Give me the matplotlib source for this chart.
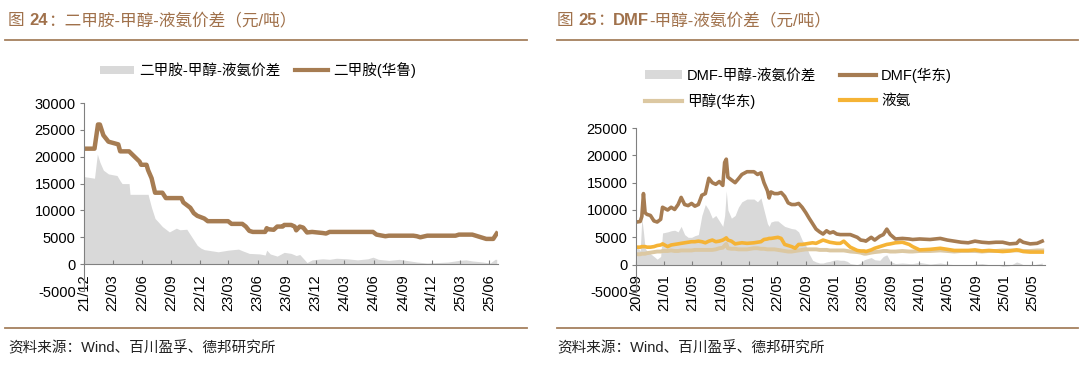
import matplotlib
matplotlib.use("Agg")
import matplotlib.pyplot as plt
import matplotlib.dates as mdates
from matplotlib.lines import Line2D
from matplotlib.patches import Patch
import pandas as pd

plt.rcParams['font.family'] = ['Liberation Sans', 'Noto Sans CJK SC']
plt.rcParams['axes.unicode_minus'] = False

# ---- left chart: 二甲胺 ----
dma_dates = ['2021-12-01', '2022-01-03', '2022-01-14', '2022-01-20', '2022-01-31', '2022-02-16',
             '2022-03-19', '2022-03-25', '2022-04-22', '2022-05-25', '2022-05-30', '2022-06-16',
             '2022-06-21', '2022-07-02', '2022-07-08', '2022-07-13', '2022-08-05', '2022-08-16',
             '2022-10-04', '2022-10-10', '2022-11-01', '2022-11-12', '2022-11-23', '2022-12-15',
             '2022-12-26', '2023-02-28', '2023-03-11', '2023-04-14', '2023-04-25', '2023-05-06',
             '2023-05-17', '2023-06-25', '2023-06-30', '2023-07-05', '2023-07-22', '2023-08-02',
             '2023-08-19', '2023-08-24', '2023-09-15', '2023-09-26', '2023-10-01', '2023-10-12',
             '2023-10-23', '2023-11-04', '2023-11-20', '2023-12-23', '2024-01-03', '2024-01-14',
             '2024-05-19', '2024-05-30', '2024-06-10', '2024-07-08', '2024-07-19', '2024-10-04',
             '2024-10-15', '2024-10-26', '2024-11-17', '2024-11-28', '2025-02-14', '2025-02-25',
             '2025-04-08', '2025-04-30', '2025-05-22', '2025-06-13', '2025-06-24']
dma_price = [21500, 21500, 26000, 26000, 24000, 22800,
             22300, 21000, 21000, 19100, 18500, 18500,
             17500, 16000, 14500, 13300, 13300, 12300,
             12300, 11500, 10500, 9500, 9000, 8500,
             8000, 8000, 7500, 7500, 7000, 6200,
             6000, 6000, 6700, 6500, 6400, 7000,
             7000, 7300, 7300, 7000, 6300, 7000,
             6800, 5900, 6000, 5800, 5700, 6000,
             6000, 6000, 5500, 5200, 5300, 5300,
             5200, 5000, 5300, 5300, 5300, 5500,
             5500, 5100, 4700, 4700, 5700]

dma_sp_dates = ['2021-12-01', '2022-01-03', '2022-01-12', '2022-01-20', '2022-01-31', '2022-02-16',
                '2022-03-15', '2022-03-25', '2022-03-31', '2022-04-22', '2022-04-25', '2022-06-21',
                '2022-06-23', '2022-07-02', '2022-07-13', '2022-07-24', '2022-08-05', '2022-08-16',
                '2022-08-27', '2022-09-18', '2022-09-29', '2022-10-21', '2022-11-01', '2022-11-12',
                '2022-11-23', '2022-12-04', '2022-12-15', '2023-01-06', '2023-01-28', '2023-02-28',
                '2023-04-02', '2023-04-14', '2023-05-06', '2023-06-08', '2023-06-25', '2023-06-30',
                '2023-07-11', '2023-08-02', '2023-08-24', '2023-09-15', '2023-10-01', '2023-10-12',
                '2023-10-29', '2023-11-04', '2023-11-20', '2023-12-23', '2024-01-14', '2024-02-05',
                '2024-03-09', '2024-04-11', '2024-05-14', '2024-05-30', '2024-06-16', '2024-07-19',
                '2024-08-21', '2024-09-23', '2024-10-15', '2024-11-17', '2024-12-20', '2025-01-22',
                '2025-02-25', '2025-03-19', '2025-04-08', '2025-05-11', '2025-06-03', '2025-06-19',
                '2025-06-24']
dma_spread = [16300, 16000, 20500, 19000, 17500, 16800,
              16500, 15500, 15000, 15000, 13000, 13000,
              12500, 10500, 8500, 7800, 7000, 6500,
              6000, 6700, 6400, 6500, 5500, 4500,
              3500, 3000, 2700, 2500, 2300, 2600,
              2800, 2500, 2000, 1900, 1700, 2600,
              1900, 1500, 2200, 2000, 1600, 1800,
              700, 300, 800, 1000, 900, 1100,
              1000, 800, 1000, 1300, 900, 700,
              900, 600, 400, 200, 300, 400,
              700, 800, 600, 400, 200, 900,
              900]

# ---- right chart: DMF ----
dmf_dates = ['2020-09-04', '2020-09-19', '2020-09-26', '2020-10-03', '2020-10-10', '2020-10-18',
             '2020-11-02', '2020-11-17', '2020-12-01', '2020-12-16', '2020-12-24', '2021-01-15',
             '2021-01-30', '2021-02-14', '2021-03-01', '2021-03-14', '2021-03-29', '2021-04-13',
             '2021-04-28', '2021-05-12', '2021-05-27', '2021-06-11', '2021-06-26', '2021-07-11',
             '2021-07-26', '2021-08-10', '2021-08-25', '2021-09-09', '2021-09-17', '2021-09-24',
             '2021-10-01', '2021-10-16', '2021-11-01', '2021-11-15', '2021-11-30', '2021-12-22',
             '2022-01-21', '2022-02-05', '2022-02-20', '2022-03-05', '2022-03-20', '2022-03-27',
             '2022-04-04', '2022-04-19', '2022-05-04', '2022-05-18', '2022-06-02', '2022-06-17',
             '2022-07-02', '2022-07-17', '2022-08-01', '2022-08-16', '2022-09-01', '2022-09-15',
             '2022-09-30', '2022-10-15', '2022-10-30', '2022-11-14', '2022-11-29', '2022-12-13',
             '2022-12-28', '2023-01-12', '2023-01-27', '2023-02-11', '2023-02-26', '2023-03-11',
             '2023-04-10', '2023-04-25', '2023-05-10', '2023-05-17', '2023-06-09', '2023-06-24',
             '2023-07-16', '2023-07-31', '2023-08-15', '2023-08-30', '2023-09-21', '2023-10-21',
             '2023-11-19', '2023-12-04', '2024-01-03', '2024-02-17', '2024-04-01', '2024-05-01',
             '2024-05-31', '2024-06-30', '2024-07-30', '2024-08-28', '2024-09-27', '2024-10-27',
             '2024-11-26', '2024-12-25', '2025-01-24', '2025-02-23', '2025-03-08', '2025-03-23',
             '2025-04-22', '2025-05-22', '2025-06-13']
dmf_price = [7800, 7900, 8800, 13000, 9500, 9200,
             9000, 8000, 7800, 8300, 10500, 10000,
             10500, 10100, 11000, 12300, 11000, 10800,
             11200, 10700, 11000, 12700, 13000, 15800,
             15000, 14700, 15200, 14500, 18700, 19300,
             16000, 15500, 15000, 15700, 16500, 17000,
             17000, 16500, 16800, 15000, 13500, 12200,
             13300, 13000, 13000, 13200, 12500, 11300,
             11000, 11000, 11200, 10500, 9500, 8500,
             7500, 6500, 6000, 5600, 6200, 5800,
             6000, 5600, 5500, 5500, 5500, 5500,
             5000, 4500, 4400, 4300, 5000, 4500,
             5200, 5500, 6500, 5500, 4700, 4800,
             4700, 4600, 4700, 4600, 4800, 4500,
             4300, 4100, 4000, 4300, 4100, 4000,
             4100, 4100, 3800, 3900, 4500, 4100,
             3800, 3900, 4300]
ammonia = [3200, 3200, 3300, 3300, 3300, 3200,
           3200, 3300, 3500, 3600, 3800, 3300,
           3600, 3700, 3800, 3900, 4000, 4100,
           4200, 4200, 4300, 4200, 4000, 4300,
           4500, 4200, 4300, 4500, 4700, 4900,
           4500, 4300, 3800, 3900, 4000, 3900,
           4000, 4100, 4200, 4600, 4700, 4800,
           4800, 4900, 5000, 4800, 3700, 3500,
           3300, 3000, 3700, 3700, 3800, 3900,
           4000, 3900, 4200, 4500, 4300, 4100,
           4000, 3900, 3900, 4300, 3700, 3200,
           2600, 2500, 2500, 2400, 2700, 3000,
           3300, 3500, 3700, 3800, 4000, 4100,
           3700, 3300, 2700, 2800, 3000, 2800,
           2600, 2600, 2600, 2700, 2500, 2600,
           2500, 2400, 2500, 2700, 2600, 2400,
           2300, 2300, 2300]
methanol = [1900, 1900, 2000, 2000, 2000, 2100,
            2200, 2300, 2400, 2400, 2500, 2500,
            2600, 2500, 2500, 2600, 2600, 2600,
            2600, 2700, 2700, 2700, 2700, 2700,
            2700, 2800, 3000, 3100, 3500, 3800,
            3000, 2900, 2900, 2800, 2800, 2800,
            3000, 3000, 2900, 2900, 2800, 2800,
            2800, 2800, 2700, 2600, 2500, 2400,
            2400, 2500, 2600, 2700, 2800, 2800,
            2800, 2800, 2700, 2700, 2700, 2600,
            2600, 2600, 2600, 2600, 2500, 2400,
            2300, 2200, 2000, 2000, 2200, 2300,
            2400, 2500, 2500, 2400, 2400, 2500,
            2400, 2400, 2500, 2500, 2600, 2500,
            2400, 2500, 2500, 2500, 2400, 2500,
            2500, 2600, 2600, 2600, 2600, 2500,
            2500, 2600, 2600]
dmf_spread = [3500, 2500, 8500, 6000, 3000, 2500,
              2000, 1500, 1000, 1500, 5800, 6000,
              6200, 6300, 6000, 7000, 5500, 5000,
              5000, 5300, 5500, 9000, 11000, 10000,
              8500, 9000, 8000, 7000, 9000, 13500,
              10000, 8500, 9000, 10500, 11500, 12000,
              12000, 11500, 12200, 10000, 7500, 7000,
              7800, 8000, 8000, 7500, 7000, 6800,
              6600, 6500, 6000, 4500, 3500, 2000,
              800, 500, 300, 300, 500, 600,
              800, 900, 800, 800, 600, 200,
              0, 300, 900, 1000, 1300, 900,
              800, 1500, 1800, 600, 200, 300,
              200, 200, 400, 100, 300, 100,
              0, 0, -100, 100, 200, 0,
              0, -300, -200, 500, 300, 0,
              -200, 100, 300]

left_ticks = ['2021-12', '2022-03', '2022-06', '2022-09', '2022-12', '2023-03', '2023-06', '2023-09',
              '2023-12', '2024-03', '2024-06', '2024-09', '2024-12', '2025-03', '2025-06']
right_ticks = ['2020-09', '2021-01', '2021-05', '2021-09', '2022-01', '2022-05', '2022-09', '2023-01',
               '2023-05', '2023-09', '2024-01', '2024-05', '2024-09', '2025-01', '2025-05']

BROWN = '#A67C52'
GRAY = '#D9D9D9'
TAN = '#DCC8A2'
ORANGE = '#F5B335'
TITLE_C = '#A0714B'
RULE_C = '#A5805E'

fig = plt.figure(figsize=(10.8, 3.72), dpi=100)


def style_axis(ax, ymin, ymax, start, end, ticks):
    ax.set_ylim(ymin, ymax)
    ax.set_yticks(range(ymin, ymax + 1, 5000))
    ax.set_xlim(pd.Timestamp(start), pd.Timestamp(end))
    ax.set_xticks(pd.to_datetime(ticks))
    ax.xaxis.set_major_formatter(mdates.DateFormatter('%y/%m'))
    ax.spines['top'].set_visible(False)
    ax.spines['right'].set_visible(False)
    ax.spines['bottom'].set_position(('data', 0))
    for s in ['left', 'bottom']:
        ax.spines[s].set_color('#808080')
        ax.spines[s].set_linewidth(0.8)
    ax.tick_params(axis='y', direction='out', length=3, color='#808080', labelsize=10.5, pad=3)
    ax.tick_params(axis='x', direction='in', length=3, color='#808080', labelsize=10.5,
                   pad=7, labelrotation=90)


def chain_title(x, y, parts):
    t = fig.text(x, y, parts[0][0], fontsize=12, color=TITLE_C, fontweight=parts[0][1], va='bottom')
    for s, w in parts[1:]:
        t = fig.axes[0].annotate(s, xy=(1, 0), xycoords=t, va='bottom', ha='left', fontsize=12,
                                 color=TITLE_C, fontweight=w, annotation_clip=False)


# left axes
ax1 = fig.add_axes([0.0778, 0.2177, 0.3833, 0.5054])
d1 = pd.to_datetime(dma_sp_dates)
ax1.fill_between(d1, 0, dma_spread, color=GRAY, linewidth=0)
ax1.plot(pd.to_datetime(dma_dates), dma_price, color=BROWN, linewidth=3.2)
style_axis(ax1, -5000, 30000, '2021-12-01', '2025-06-28', left_ticks)

# right axes
ax2 = fig.add_axes([0.5889, 0.2151, 0.3787, 0.4408])
d2 = pd.to_datetime(dmf_dates)
ax2.fill_between(d2, 0, dmf_spread, color=GRAY, linewidth=0)
ax2.plot(d2, methanol, color=TAN, linewidth=2.8)
ax2.plot(d2, ammonia, color=ORANGE, linewidth=2.6)
ax2.plot(d2, dmf_price, color=BROWN, linewidth=2.6)
style_axis(ax2, -5000, 25000, '2020-09-01', '2025-06-25', right_ticks)

# legends
h_left = [Patch(facecolor=GRAY, edgecolor='none'), Line2D([], [], color=BROWN, linewidth=3)]
fig.legend(h_left, ['二甲胺-甲醇-液氨价差', '二甲胺(华鲁)'], loc='center left',
           bbox_to_anchor=(93 / 1080, 1 - 70 / 372), ncol=2, frameon=False, fontsize=10.5,
           handlelength=2.3, handleheight=0.5, handletextpad=0.35, columnspacing=1.0, borderpad=0)

h_right = [Patch(facecolor=GRAY, edgecolor='none'), Line2D([], [], color=TAN, linewidth=3),
           Line2D([], [], color=BROWN, linewidth=3), Line2D([], [], color=ORANGE, linewidth=3)]
fig.legend(h_right, ['DMF-甲醇-液氨价差', '甲醇(华东)', 'DMF(华东)', '液氨'], loc='upper left',
           bbox_to_anchor=(638 / 1080, 1 - 60 / 372), ncol=2, frameon=False, fontsize=10.5,
           handlelength=2.5, handleheight=0.5, handletextpad=0.35, columnspacing=1.6,
           labelspacing=0.75, borderpad=0)

# titles
chain_title(8 / 1080, 1 - 28 / 372, [('图 ', 'normal'), ('24', 'bold'), ('：二甲胺-甲醇-液氨价差（元/吨）', 'normal')])
chain_title(557 / 1080, 1 - 28 / 372, [('图 ', 'normal'), ('25', 'bold'), ('：', 'normal'), ('DMF', 'bold'),
                                       ('-甲醇-液氨价差（元/吨）', 'normal')])

# rules
for x0, x1 in [(5, 527), (557, 1078)]:
    for yy in [40, 328]:
        fig.add_artist(Line2D([x0 / 1080, x1 / 1080], [1 - yy / 372, 1 - yy / 372],
                              color=RULE_C, linewidth=1.3))

# source
for x0 in [8, 557]:
    fig.text(x0 / 1080, 1 - 348 / 372, '资料来源：Wind、百川盈孚、德邦研究所', fontsize=10.5,
             color='#222222', va='center')

fig.savefig('out.png', dpi=100)
